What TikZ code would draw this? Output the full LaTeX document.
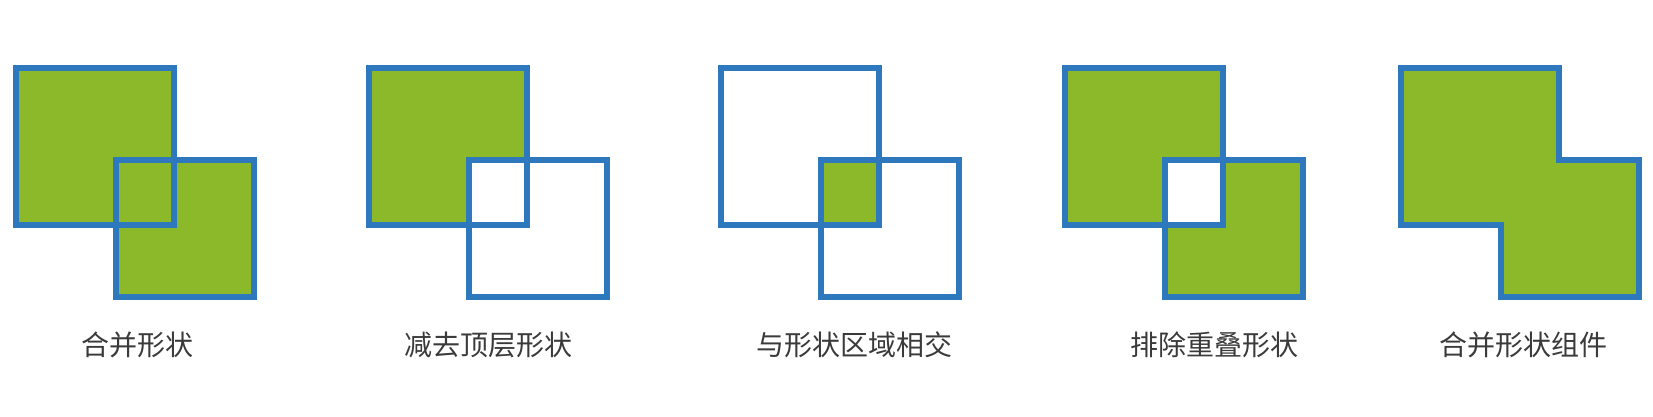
\documentclass[tikz,border=0pt]{standalone}
\usepackage{fontspec}
\newfontfamily\cjk{Noto Sans CJK SC}
\usetikzlibrary{positioning}

\definecolor{shapegreen}{RGB}{139,185,41}
\definecolor{shapeblue}{RGB}{46,120,190}
\definecolor{labelgray}{RGB}{58,58,58}

\tikzset{
	outline/.style={draw=shapeblue, line width=5.5pt},
	greenfill/.style={fill=shapegreen},
	caption/.style={font=\cjk\fontsize{28}{31}\selectfont, text=labelgray, inner sep=0pt}
}

\begin{document}
\begin{tikzpicture}[x=1pt, y=-1pt]
	\useasboundingbox (0, 0) rectangle (1653, 417);

	\begin{scope}[shift={(13, 0)}]
		\fill[greenfill] (3, 68) rectangle (161, 225);
		\fill[greenfill] (103, 160) rectangle (241, 297);
		\draw[outline] (3, 68) rectangle (161, 225);
		\draw[outline] (103, 160) rectangle (241, 297);
	\end{scope}

	\begin{scope}[shift={(366, 0)}]
		\fill[greenfill] (3, 68) rectangle (161, 225);
		\fill[white] (103, 160) rectangle (241, 297);
		\draw[outline] (3, 68) rectangle (161, 225);
		\draw[outline] (103, 160) rectangle (241, 297);
	\end{scope}

	\begin{scope}[shift={(718, 0)}]
		\fill[greenfill] (103, 160) rectangle (161, 225);
		\draw[outline] (3, 68) rectangle (161, 225);
		\draw[outline] (103, 160) rectangle (241, 297);
	\end{scope}

	\begin{scope}[shift={(1062, 0)}]
		\fill[greenfill, even odd rule] (3, 68) rectangle (161, 225) (103, 160) rectangle (241, 297);
		\draw[outline] (3, 68) rectangle (161, 225);
		\draw[outline] (103, 160) rectangle (241, 297);
	\end{scope}

	\begin{scope}[shift={(1398, 0)}]
		\draw[outline, greenfill] (3, 68) -- (161, 68) -- (161, 160) -- (241, 160)
			-- (241, 297) -- (103, 297) -- (103, 225) -- (3, 225) -- cycle;
	\end{scope}

	\node[caption] (union) at (137, 345) {合并形状};
	\node[caption] (subtract) at (488, 345) {减去顶层形状};
	\node[caption] (intersect) at (854, 345) {与形状区域相交};
	\node[caption] (exclude) at (1214, 345) {排除重叠形状};
	\node[caption] (combine) at (1523, 345) {合并形状组件};

\end{tikzpicture}
\end{document}
